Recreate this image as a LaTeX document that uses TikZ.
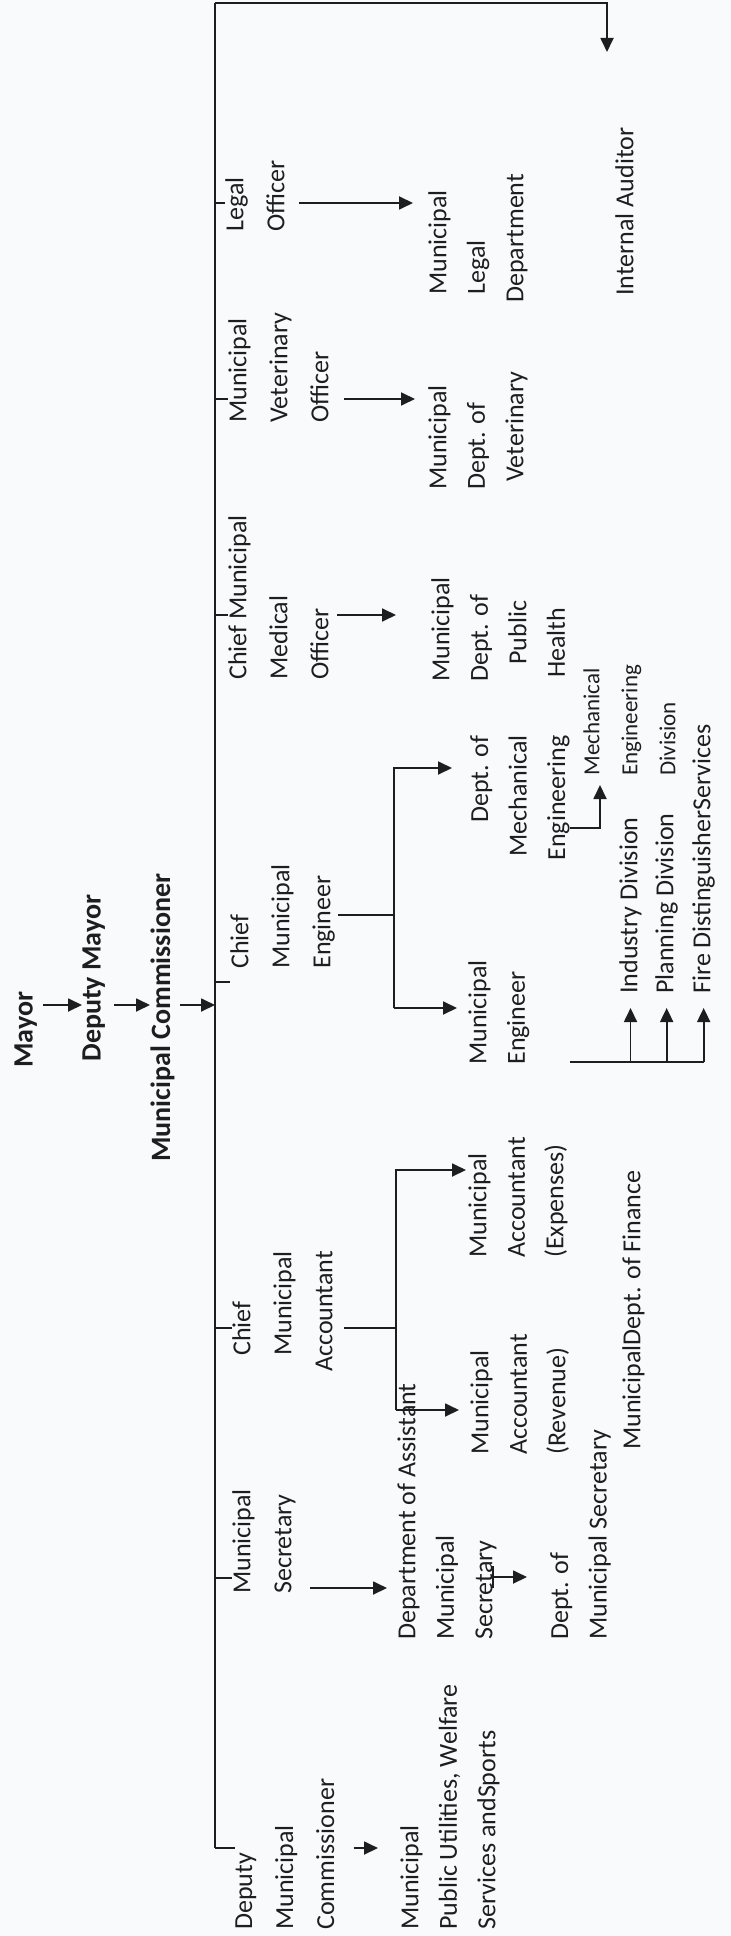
\documentclass[tikz,border=0pt]{standalone}
\usepackage{fontspec}
\setmainfont{Carlito}
\usetikzlibrary{arrows.meta}
\definecolor{paper}{RGB}{248,250,252}
\definecolor{ink}{RGB}{30,30,30}

\begin{document}
\begin{tikzpicture}[
  x=0.5pt, y=-0.5pt,
  post/.style     = {rotate=90, anchor=north west, align=left, inner sep=0pt,
                     text=ink, font=\fontsize{13}{20.5}\selectfont},
  dept/.style     = {post, font=\fontsize{13}{19.25}\selectfont},
  divsmall/.style = {post, font=\fontsize{11.5}{19}\selectfont},
  head/.style     = {post, font=\fontsize{14}{20}\selectfont\bfseries},
  link/.style     = {draw=ink, line width=0.9pt},
  arr/.style      = {link, -{Triangle[length=7pt, width=6.5pt]}}
]
\useasboundingbox (0,0) rectangle (731,1936);
\fill[paper] (0,0) rectangle (731,1936);

%% ---- top of the chain ----
\node[head] (mayor)  at (14,1068)  {Mayor};
\node[head] (dmayor) at (82,1062)  {Deputy Mayor};
\node[head] (mcomm)  at (150,1162) {Municipal Commissioner};

%% ---- heads ----
\node[post] (legal) at (225,232)  {Legal\\Officer};
\node[post] (vet)   at (228,423)  {Municipal\\Veterinary\\Officer};
\node[post] (med)   at (228,680)  {Chief Municipal\\Medical\\Officer};
\node[post] (eng)   at (230,969)  {Chief\\Municipal\\Engineer};
\node[post] (acc)   at (232,1372) {\hspace*{8pt}Chief\\\hspace*{8pt}Municipal\\Accountant};
\node[post] (sec)   at (232,1594) {Municipal\\Secretary};
\node[post] (dep)   at (235,1930) {Deputy\\Municipal\\Commissioner};

%% ---- departments ----
\node[dept] (legaldept) at (428,303)  {\hspace*{4pt}Municipal\\\hspace*{4pt}Legal\\Department};
\node[dept] (vetdept)   at (428,490)  {Municipal\\Dept. of\\\hspace*{4pt}Veterinary};
\node[dept] (meddept)   at (431,682)  {Municipal\\Dept. of\\\hspace*{8.5pt}Public\\\hspace*{2pt}Health};
\node[dept, anchor=north east, align=right] (mecheng) at (470,735) {Dept. of\\Mechanical\\Engineering};
\node[dept] (municeng)  at (468,1065) {Municipal\\Engineer};
\node[dept] (accexp)    at (468,1258) {Municipal\\Accountant\\(Expenses)};
\node[dept] (accrev)    at (470,1455) {Municipal\\Accountant\\(Revenue)};
\node[dept] (asst)      at (397,1640) {Department of Assistant\\Municipal\\Secretary};
\node[dept] (util)      at (400,1930) {Municipal\\Public Utilities, Welfare\\Services andSports};

%% ---- sections ----
\node[divsmall] (mechdiv) at (583,776) {Mechanical\\Engineering\\Division};
\node[post] (ind)     at (619,994)  {Industry Division};
\node[post] (plan)    at (655,994)  {Planning Division};
\node[post] (fire)    at (692,994)  {Fire DistinguisherServices};
\node[dept] (secdept) at (550,1640) {Dept. of\\Municipal Secretary};
\node[post] (fin)     at (622,1450) {MunicipalDept. of Finance};
\node[post] (audit)   at (615,296)  {Internal Auditor};

%% ---- spine ----
\coordinate (spT) at (215,3);
\coordinate (spB) at (215,1848);
\coordinate (audTip) at (607,52);
\coordinate (lvl) at (0,1005);
\draw[link] (spT) -- (spB);
\draw[arr] (spT) -| (audTip);

\draw[arr, shorten <=3pt]   (lvl -| mayor.south)  -- (lvl -| dmayor.north);
\draw[arr, shorten <=4.5pt] (lvl -| dmayor.south) -- (lvl -| mcomm.north);
\draw[arr, shorten <=2.5pt] (lvl -| mcomm.south)  -- (lvl -| spT);

\foreach \n/\y in {legal/203, vet/399, med/615, eng/982, acc/1328, sec/1578, dep/1848}{
  \coordinate (j\n) at (spT |- 0,\y);
  \draw[link] (j\n) -- (j\n -| \n.north);
}

%% ---- heads to departments ----
\coordinate (secArr) at (0,1588);
\draw[arr, shorten <=7pt, shorten >=7.5pt]  (jlegal -| legal.south) -- (jlegal -| legaldept.north);
\draw[arr, shorten <=7.5pt, shorten >=6.5pt] (jvet -| vet.south)    -- (jvet -| vetdept.north);
\draw[arr, shorten <=4pt, shorten >=17.5pt]  (jmed -| med.south)    -- (jmed -| meddept.north);
\draw[arr, shorten <=7pt, shorten >=5pt]     (secArr -| sec.south)  -- (secArr -| asst.north);
\draw[arr, shorten <=9.5pt, shorten >=11pt]  (jdep -| dep.south)    -- (jdep -| util.north);

\coordinate (engFork) at (394,915);
\coordinate (engUp)   at (394,768);
\coordinate (engDn)   at (394,1008);
\draw[link, shorten <=1.5pt] (engFork -| eng.south) -- (engFork);
\draw[arr, shorten >=9pt]   (engDn) -- (engUp) -- (engUp -| mecheng.north);
\draw[arr, shorten >=5.5pt] (engDn) -- (engDn -| municeng.north);

\coordinate (accFork) at (396,1328);
\coordinate (accUp)   at (396,1170);
\coordinate (accDn)   at (396,1410);
\draw[link, shorten <=5.5pt] (accFork -| acc.south) -- (accFork);
\draw[arr, shorten >=1pt]   (accDn) -- (accUp) -- (accUp -| accexp.north);
\draw[arr, shorten >=5.5pt] (accDn) -- (accDn -| accrev.north);

%% ---- sections ----
\coordinate (mdElbow) at (600,828);
\draw[arr, shorten >=4.5pt] (mdElbow -| mecheng.south) -- (mdElbow) -- (mdElbow |- mechdiv.west);

\coordinate (divBar) at (570,1062);
\draw[link] (divBar) -- (divBar -| fire.west);
\foreach \n in {ind, plan, fire}
  \draw[arr, shorten >=7pt] (divBar -| \n.west) -- (\n.west);

\coordinate (secT) at (493,1577);
\draw[link] (secT) ++(0,-11) -- ++(0,22);
\draw[arr, shorten >=11.5pt] (secT) -- (secT -| secdept.north);
\end{tikzpicture}
\end{document}
